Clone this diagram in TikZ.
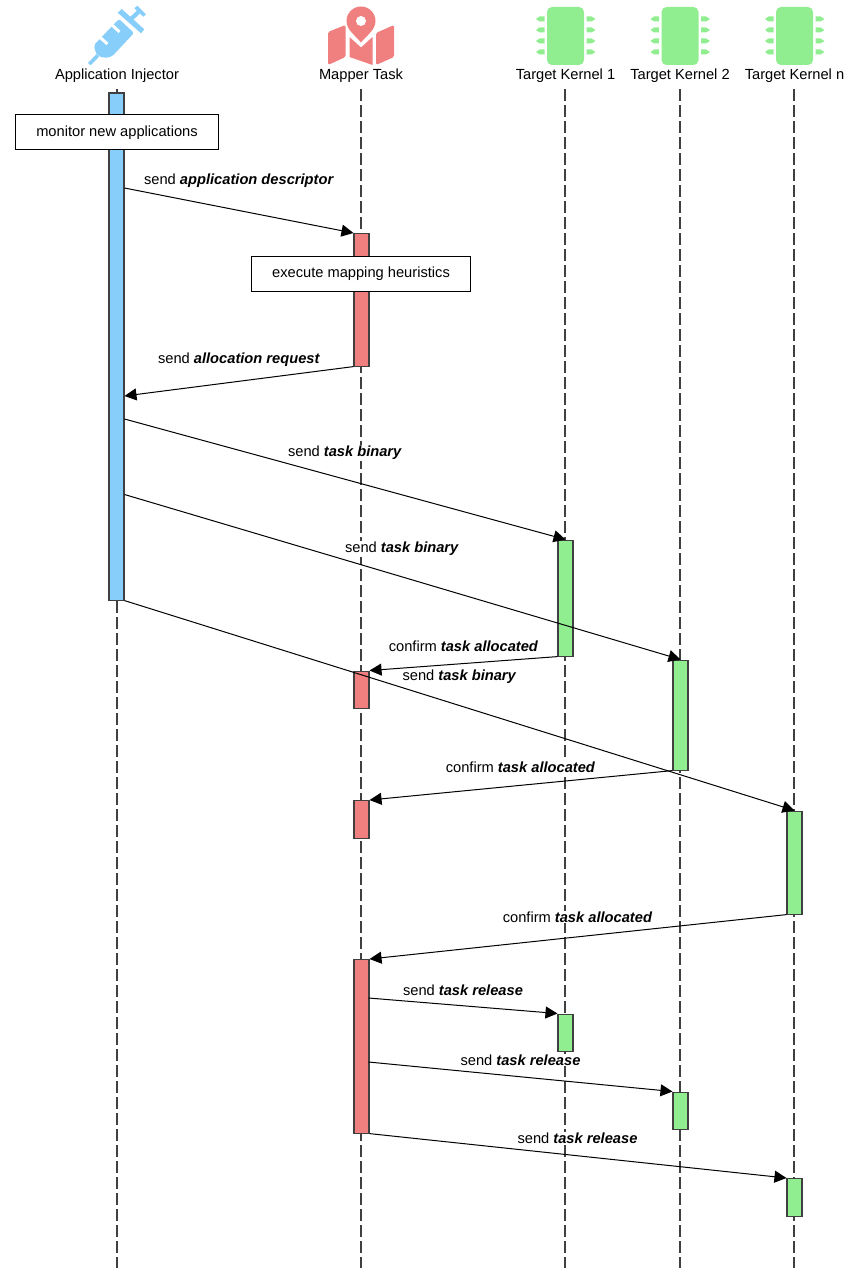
\documentclass[tikz,border=0pt]{standalone}
\usepackage{fontspec}
\setmainfont{Liberation Sans}
\usetikzlibrary{arrows.meta}
\definecolor{injblue}{HTML}{87CEFA}
\definecolor{mapred}{HTML}{F08080}
\definecolor{kerngreen}{HTML}{90EE90}
\tikzset{
  lifeline/.style={draw=black!75,line width=1.1pt,dash pattern=on 12pt off 4pt,dash phase=12pt},
  bar/.style={draw=black!75,line width=1.1pt,minimum width=15pt,inner sep=0pt,anchor=north},
  bluebar/.style={bar,fill=injblue},
  redbar/.style={bar,fill=mapred},
  greenbar/.style={bar,fill=kerngreen},
  msg/.style={draw=black,line width=1pt,-{Triangle[length=12pt,width=12pt]}},
  lab/.style={fill=white,inner sep=1pt,font=\fontsize{14.67}{18}\selectfont,anchor=center},
  head/.style={inner sep=0pt,font=\fontsize{14.67}{18}\selectfont,anchor=center},
  notebox/.style={draw=black,line width=1pt,fill=white,inner sep=0pt,font=\fontsize{14.67}{18}\selectfont,anchor=center},
  chip/.pic={
    \fill[kerngreen,rounded corners=5pt] (-18.5,7) rectangle (18.5,65);
    \foreach \yy in {19,30,41,52}{
      \fill[kerngreen] (-21,\yy-2.5) -- (-21,\yy+2.5) -- (-26,\yy+2.5) -- (-29.5,\yy) -- (-26,\yy-2.5) -- cycle;
      \fill[kerngreen] (21,\yy-2.5) -- (21,\yy+2.5) -- (26,\yy+2.5) -- (30,\yy) -- (26,\yy-2.5) -- cycle;
    }
  }
}
\begin{document}
\begin{tikzpicture}[x=1pt,y=-1pt]
\useasboundingbox (0,0) rectangle (851,1268);
% lifelines
\coordinate (l1t) at (117,85); \coordinate (l1b) at (117,1268);
\coordinate (l2t) at (361,85); \coordinate (l2b) at (361,1268);
\coordinate (l3t) at (565,85); \coordinate (l3b) at (565,1268);
\coordinate (l4t) at (680,85); \coordinate (l4b) at (680,1268);
\coordinate (l5t) at (794,85); \coordinate (l5b) at (794,1268);
\foreach \n in {1,...,5}{\draw[lifeline] (l\n t) -- (l\n b);}
% syringe icon
\fill[injblue,rounded corners=2pt] (94,45) -- (119,19) -- (134,33) -- (112,56.5) -- (105,58) -- (98,56) -- (95,51) -- cycle;
\draw[white,line width=3pt] (99,36.5) -- (107.5,44);
\draw[white,line width=3pt] (111,24) -- (119.5,32);
\fill[injblue] (88,63) -- (96.5,54) -- (99,57) -- (90.5,65.5) -- cycle;
\fill[injblue] (117.7,12.7) -- (121.7,9) -- (144.3,29.3) -- (141,33.3) -- cycle;
\fill[injblue] (128,19) -- (137,10.5) -- (140,13.5) -- (131,22) -- cycle;
\fill[injblue] (134.3,8.3) -- (137.3,5.7) -- (146,14.3) -- (143.3,16.7) -- cycle;
% map icon
\fill[mapred,rounded corners=1.5pt] (328,32) -- (345.5,25) -- (345.5,57) -- (328,65) -- cycle;
\fill[mapred,rounded corners=.5pt] (349.5,37) -- (361,47.5) -- (372.5,37) -- (372.5,65) -- (349.5,57) -- cycle;
\fill[mapred,rounded corners=1.5pt] (376,33) -- (394,25) -- (394,57) -- (376,65) -- cycle;
\fill[mapred] (361,42.5) .. controls (355,35) and (346.5,30) .. (346.5,21) arc[start angle=180,end angle=360,radius=14.5] .. controls (375.5,30) and (367,35) .. (361,42.5) -- cycle;
\fill[white] (361,21) circle[radius=5];
% chip icons
\pic at (565.5,0) {chip};
\pic at (680,0) {chip};
\pic at (794.5,0) {chip};
% headers
\node[head] (h1) at (117,75.5) {Application Injector};
\node[head] (h2) at (361,75.5) {Mapper Task};
\node[head] (h3) at (565.5,75.5) {Target Kernel 1};
\node[head] (h4) at (680,75.5) {Target Kernel 2};
\node[head] (h5) at (794.5,75.5) {Target Kernel n};
% labels
\node[lab] (m1) at (239,181) {send \textbf{\textit{application descriptor}}};
\node[lab] (m2) at (239,360) {send \textbf{\textit{allocation request}}};
\node[lab] (m3) at (345,453) {send \textbf{\textit{task binary}}};
\node[lab] (m4) at (402,549) {send \textbf{\textit{task binary}}};
\node[lab] (m5) at (463.5,646) {confirm \textbf{\textit{task allocated}}};
\node[lab] (m6) at (459.5,677) {send \textbf{\textit{task binary}}};
\node[lab] (m7) at (520.5,767) {confirm \textbf{\textit{task allocated}}};
\node[lab] (m8) at (577.5,917) {confirm \textbf{\textit{task allocated}}};
\node[lab] (m9) at (463,990) {send \textbf{\textit{task release}}};
\node[lab] (m10) at (520.5,1060) {send \textbf{\textit{task release}}};
\node[lab] (m11) at (577.5,1138) {send \textbf{\textit{task release}}};
% activation bars
\node[bluebar,minimum height=507pt] (a0) at (116.5,92.5) {};
\node[redbar,minimum height=132.5pt] (r1) at (361.5,233) {};
\node[redbar,minimum height=37.5pt] (r2) at (361.5,670.5) {};
\node[redbar,minimum height=37.5pt] (r3) at (361.5,800) {};
\node[redbar,minimum height=173.5pt] (r4) at (361.5,959) {};
\node[greenbar,minimum height=116pt] (g1) at (565.5,539.5) {};
\node[greenbar,minimum height=110pt] (g2) at (680.5,659.5) {};
\node[greenbar,minimum height=103pt] (g3) at (794.5,810.5) {};
\node[greenbar,minimum height=37.5pt] (g4) at (565.5,1013.5) {};
\node[greenbar,minimum height=37.5pt] (g5) at (680.5,1091.5) {};
\node[greenbar,minimum height=37.5pt] (g6) at (794.5,1178) {};
% boxes
\node[notebox,minimum width=203.5pt,minimum height=35pt] (b1) at (117,132.5) {monitor new applications};
\node[notebox,minimum width=219.5pt,minimum height=35pt] (b2) at (361,273.5) {execute mapping heuristics};
% messages
\coordinate (s1) at (124.5,188);
\coordinate (e2) at (124.5,396);
\coordinate (s3) at (124.5,419);
\coordinate (s4) at (124.5,494.5);
\coordinate (s9) at (368.5,998);
\coordinate (s10) at (368.5,1062);
\draw[msg] (s1) -- (r1.north west);
\draw[msg] (r1.south west) -- (e2);
\draw[msg] (s3) -- (g1.north);
\draw[msg] (s4) -- (g2.north);
\draw[msg] (g1.south west) -- (r2.north east);
\draw[msg] (a0.south east) -- (g3.north);
\draw[msg] (g2.south west) -- (r3.north east);
\draw[msg] (g3.south west) -- (r4.north east);
\draw[msg] (s9) -- (g4.north west);
\draw[msg] (s10) -- (g5.north west);
\draw[msg] (r4.south east) -- (g6.north west);
\end{tikzpicture}
\end{document}
